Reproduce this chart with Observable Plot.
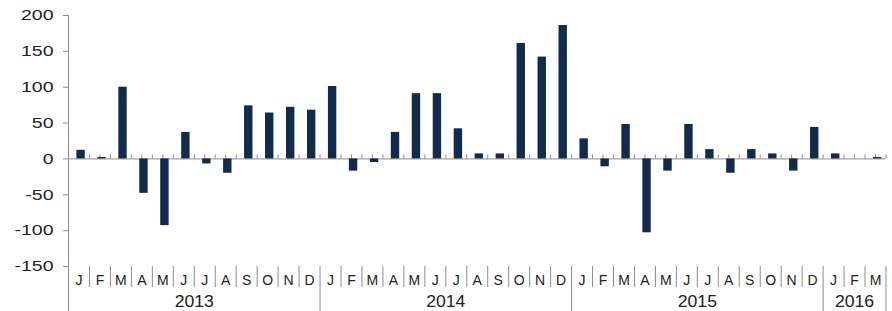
<!DOCTYPE html>
<html><head><meta charset="utf-8">
<script src="https://cdn.jsdelivr.net/npm/d3@7"></script>
<script src="https://cdn.jsdelivr.net/npm/@observablehq/plot@0.6"></script>
<style>html,body{margin:0;padding:0;background:#fff}svg{display:block}</style>
</head><body><div id="chart"></div>
<script>
const years = [2013, 2014, 2015, 2016];
const monthLetters = ["J","F","M","A","M","J","J","A","S","O","N","D"];
const values2013 = [12, 2, 100, -48, -93, 37, -7, -20, 74, 64, 72, 68];
const values2014 = [101, -17, -5, 37, 91, 91, 42, 7, 7, 161, 142, 186];
const values2015 = [28, -11, 48, -103, -17, 48, 13, -20, 13, 7, -17, 44];
const values2016 = [7, 0, 2];
const yTicks = [-150, -100, -50, 0, 50, 100, 150, 200];

const rows = [];
[values2013, values2014, values2015, values2016].forEach((vals, k) =>
  vals.forEach((v, m) => rows.push({i: rows.length, year: years[k], month: monthLetters[m], value: v})));
const n = rows.length;
const yearGroups = years.map(y => {
  const r = rows.filter(d => d.year === y);
  return {year: y, start: r[0].i, end: r[r.length - 1].i + 1};
});
const monthBoundaries = d3.range(1, n).filter(i => !yearGroups.some(g => g.start === i));
const yearBoundaries = [0, ...yearGroups.map(g => g.end)];
const halfTicks = d3.range(1, 2 * n + 1).map(k => k / 2);
const monthCenters = rows.map(d => d.i + 0.5);
const yearCenters = yearGroups.map(g => (g.start + g.end) / 2);

const axisGray = "#8c8c8c";
const textColor = "#222";

const chart = Plot.plot({
  width: 892, height: 311,
  marginLeft: 68, marginRight: 6.5, marginTop: 15, marginBottom: 45,
  style: {fontFamily: "'Liberation Sans', Arial, sans-serif", fontSize: "14px", background: "#fff", color: textColor},
  x: {type: "linear", domain: [0, n], label: null},
  y: {domain: [-150, 200], label: null},
  marks: [
    Plot.ruleY([0], {stroke: axisGray}),
    Plot.ruleX(halfTicks, {x: d => d, y1: 0, y2: 0, insetTop: -4, stroke: axisGray}),
    Plot.rectY(rows, {x1: d => d.i + 0.4, x2: d => d.i + 0.8, y: "value", fill: "#122a4b"}),
    Plot.ruleX([0], {stroke: axisGray}),
    Plot.axisY({ticks: yTicks, tickSize: 5, tickPadding: 10, tickFormat: d => String(d), fontSize: 15, stroke: axisGray, fill: textColor, label: null}),
    Plot.axisX({ticks: monthBoundaries, tickSize: 21, tickFormat: () => "", stroke: axisGray, label: null}),
    Plot.axisX({ticks: yearBoundaries, tickSize: 45, tickFormat: () => "", stroke: axisGray, label: null}),
    Plot.axisX({ticks: monthCenters, tickSize: 0, tickPadding: 9, tickFormat: d => rows[Math.floor(d)].month, fontSize: 14, fill: textColor, label: null}),
    Plot.axisX({ticks: yearCenters, tickSize: 0, tickPadding: 29, tickFormat: d => String(yearGroups[yearCenters.indexOf(d)].year), fontSize: 16, fill: textColor, label: null})
  ]
});
document.getElementById("chart").appendChild(chart);

// widen glyphs horizontally like the reference rendering
d3.select(chart).selectAll("text").each(function() {
  const t = this.textContent.trim();
  let f = 1.0;
  if (/^\d{4}$/.test(t)) f = 1.1;
  else if (/^-?\d+$/.test(t)) f = 1.3;
  if (f !== 1.0) {
    const L = this.getComputedTextLength();
    this.setAttribute("textLength", (L * f).toFixed(1));
    this.setAttribute("lengthAdjust", "spacingAndGlyphs");
  }
});
</script>
</body></html>
